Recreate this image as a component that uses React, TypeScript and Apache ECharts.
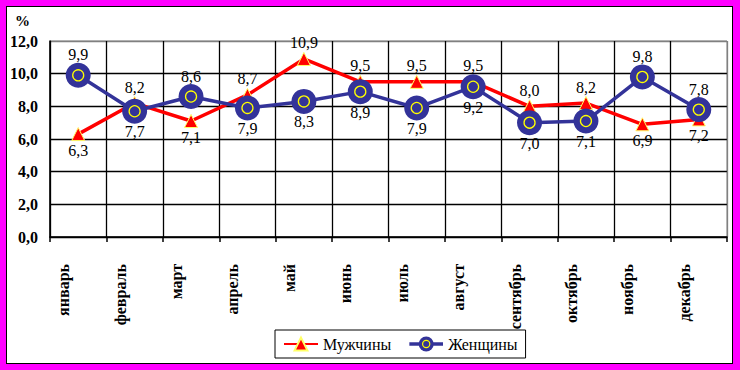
import React, { useEffect, useRef } from 'react';
import * as echarts from 'echarts';

const months = ['январь', 'февраль', 'март', 'апрель', 'май', 'июнь', 'июль', 'август', 'сентябрь', 'октябрь', 'ноябрь', 'декабрь'];
const men = [6.3, 8.2, 7.1, 8.7, 10.9, 9.5, 9.5, 9.5, 8.0, 8.2, 6.9, 7.2];
const women = [9.9, 7.7, 8.6, 7.9, 8.3, 8.9, 7.9, 9.2, 7.0, 7.1, 9.8, 7.8];
const menLabelPos = ['bottom', 'top', 'bottom', 'top', 'top', 'top', 'top', 'top', 'top', 'top', 'bottom', 'bottom'];
const womenLabelPos = ['top', 'bottom', 'top', 'bottom', 'bottom', 'bottom', 'bottom', 'bottom', 'bottom', 'bottom', 'top', 'top'];
const yTicks = { min: 0, max: 12, interval: 2 };

const serif = '"Liberation Serif", "Times New Roman", serif';
const fmt = (v: number) => v.toFixed(1).replace('.', ',');

const womenIconSvg =
  '<svg xmlns="http://www.w3.org/2000/svg" width="34" height="16" viewBox="0 0 34 16">' +
  '<line x1="0" y1="8" x2="34" y2="8" stroke="#333399" stroke-width="3.5"/>' +
  '<circle cx="17" cy="8" r="7.5" fill="#333399"/>' +
  '<circle cx="17" cy="8" r="3.6" fill="#333399" stroke="#ffff00" stroke-width="1.2"/>' +
  '</svg>';
const womenIcon = 'image://data:image/svg+xml;charset=utf-8,' + encodeURIComponent(womenIconSvg);

export default function App() {
  const ref = useRef<HTMLDivElement>(null);
  useEffect(() => {
    if (!ref.current) return;
    const chart = echarts.init(ref.current, null, { renderer: 'svg' });
    const xSplitColors = months.map(() => '#000').concat(['#808080']);
    const ySplitColors: string[] = [];
    for (let v = yTicks.min; v < yTicks.max; v += yTicks.interval) ySplitColors.push('#000');
    ySplitColors.push('#808080');
    chart.setOption({
      animation: false,
      backgroundColor: 'transparent',
      textStyle: { fontFamily: serif },
      graphic: [
        { type: 'text', left: 15, top: 13, style: { text: '%', font: 'bold 15px ' + serif, fill: '#000' } },
      ],
      grid: { left: 50, top: 41, width: 677, height: 196, show: true, borderColor: '#808080', borderWidth: 1, backgroundColor: 'transparent' },
      legend: {
        data: [{ name: 'Мужчины' }, { name: 'Женщины', icon: womenIcon }],
        left: 275, top: 330,
        padding: [6, 8, 6, 8],
        itemWidth: 34, itemHeight: 16, itemGap: 18,
        borderColor: '#000', borderWidth: 1, backgroundColor: '#fff', borderRadius: 0,
        textStyle: { fontSize: 16, fontFamily: serif, color: '#000' },
      },
      xAxis: {
        type: 'category',
        data: months,
        boundaryGap: true,
        axisLine: { show: true, lineStyle: { color: '#000', width: 1.5 } },
        axisTick: { show: true, length: 5, lineStyle: { color: '#000', width: 1.5 } },
        splitLine: { show: true, lineStyle: { color: xSplitColors, width: 1.3 } },
        axisLabel: {
          interval: 0, rotate: 90, margin: 27, fontSize: 16, fontWeight: 'bold', color: '#000',
          fontFamily: serif, verticalAlign: 'bottom', lineHeight: 29,
        },
      },
      yAxis: {
        type: 'value',
        min: yTicks.min, max: yTicks.max, interval: yTicks.interval,
        axisLine: { show: true, lineStyle: { color: '#000', width: 1.5 } },
        axisTick: { show: false },
        splitLine: { show: true, lineStyle: { color: ySplitColors, width: 1.3 } },
        axisLabel: { formatter: (v: number) => fmt(v), fontSize: 16, fontWeight: 'bold', margin: 12, color: '#000', fontFamily: serif },
      },
      series: [
        {
          type: 'line', name: 'Мужчины',
          data: men.map((v, i) => ({ value: v, label: { position: menLabelPos[i] } })),
          symbol: 'triangle', symbolSize: 13,
          lineStyle: { color: '#ff0000', width: 3.5 },
          itemStyle: { color: '#ff0000', borderColor: '#ffff66', borderWidth: 1 },
          label: { show: true, formatter: (p: any) => fmt(p.value), fontSize: 16, color: '#000', distance: 1, fontFamily: serif },
          z: 2,
        },
        {
          type: 'line', name: 'Женщины',
          data: women.map((v, i) => ({ value: v, label: { position: womenLabelPos[i] } })),
          symbol: 'circle', symbolSize: 25,
          lineStyle: { color: '#333399', width: 3.5 },
          itemStyle: { color: '#333399' },
          label: { show: true, formatter: (p: any) => fmt(p.value), fontSize: 16, color: '#000', distance: 0, fontFamily: serif },
          z: 3,
        },
        {
          type: 'line', name: 'ring',
          data: women,
          symbol: 'circle', symbolSize: 11,
          lineStyle: { opacity: 0, width: 0 },
          itemStyle: { color: '#333399', borderColor: '#ffff00', borderWidth: 1.3 },
          label: { show: false },
          silent: true,
          z: 4,
        },
      ],
    });
    return () => chart.dispose();
  }, []);

  return (
    <div style={{ position: 'fixed', left: 0, top: 0, width: 740, height: 370, background: '#ff00ff' }}>
      <div style={{ position: 'absolute', left: 6, top: 6, width: 727, height: 358, boxSizing: 'border-box', border: '1px solid #000', background: '#fff' }} />
      <div ref={ref} style={{ position: 'absolute', left: 0, top: 0, width: 740, height: 370 }} />
    </div>
  );
}
